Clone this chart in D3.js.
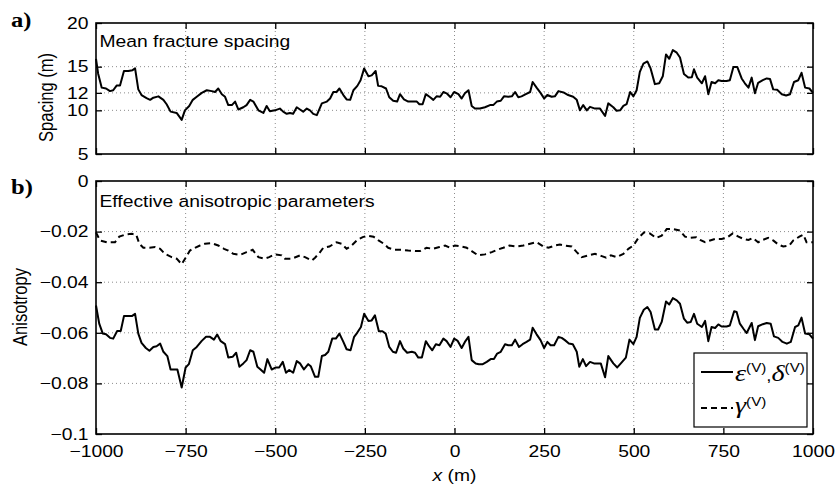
<!DOCTYPE html>
<html><head><meta charset="utf-8">
<script src="https://cdn.jsdelivr.net/npm/d3@7"></script>
<style>body{margin:0;background:#fff}svg{display:block}</style>
</head><body>
<svg id="c" width="835" height="484"></svg>
<script>
// ---------- data ----------
const xTicks=[-1000,-750,-500,-250,0,250,500,750,1000];
const xTickLabels=["−1000","−750","−500","−250","0","250","500","750","1000"];
const spacingTicks=[5,10,12,15,20];
const spacingTickLabels=["5","10","12","15","20"];
const spacingGrid=[10,12,15];
const anisoTicks=[-0.1,-0.08,-0.06,-0.04,-0.02,0];
const anisoTickLabels=["−0.1","−0.08","−0.06","−0.04","−0.02","0"];
const anisoGrid=[-0.08,-0.06,-0.04,-0.02];

const spacingX=[-1000,-994,-984,-972,-961,-952,-942,-933,-922,-910,-898,-891,-882,-873,-859,-849,-840,-826,-812,-803,-792,-775,-761,-752,-740,-730,-719,-705,-691,-677,-668,-659,-649,-640,-631,-621,-612,-603,-589,-580,-570,-561,-547,-533,-524,-515,-501,-487,
-478,-468,-459,-450,-440,-431,-422,-412,-403,-394,-384,-370,-356,-347,-338,-329,-321,-310,-301,-291,-282,-271,-262,-252,-240,-231,-220,-213,-203,-191,-182,-171,-160,-152,-141,-129,-117,-105,-98,-89,-80,-68,-59,-50,-40,-31,-22,-11,-1,11,20,29,39,48,57,71,85,99,108,118,129,138,150,160,169,178,187,199,211,218,229,240,250,259,271,280,290,
304,317,331,341,350,359,369,378,392,406,420,429,443,452,462,471,480,490,499,508,517,527,538,547,559,571,581,590,599,609,620,629,640,652,662,668,677,690,699,708,717,727,736,745,759,768,778,789,801,810,820,829,838,847,860,871,880,889,900,913,925,936,947,959,968,978,990,1000];
const spacing=[15.9,14.2,12.6,12.5,12.2,12.3,12.85,12.85,14.5,14.5,14.6,14.8,12.4,11.75,11.4,11.2,11.45,11.6,11.2,10.7,9.85,9.7,8.9,10.0,10.5,11.2,11.55,12.0,12.3,12.2,12.1,12.5,11.85,11.55,10.6,10.6,11.0,10.1,10.35,10.6,11.2,11.0,10.0,9.7,10.5,9.9,10.0,10.2,
9.85,9.6,9.7,9.6,10.35,10.1,9.85,10.2,10.0,9.6,9.45,10.8,11.0,11.35,12.1,12.1,12.5,11.75,11.25,11.2,12.3,12.8,13.45,14.8,13.9,14.0,14.5,12.8,12.75,12.5,11.5,11.1,11.0,11.85,11.25,11.0,11.0,11.0,10.7,10.7,11.85,11.5,11.2,11.6,11.55,12.1,11.95,11.5,12.1,11.85,11.35,11.95,12.3,10.5,10.2,10.2,10.35,10.6,10.6,11.0,11.1,11.6,11.55,11.6,12.1,11.5,11.6,11.85,12.1,13.25,12.6,12.0,11.35,11.75,11.55,11.6,12.2,
12.05,11.75,11.55,11.2,10.0,10.6,10.0,10.4,10.2,10.2,9.35,10.8,10.35,9.95,10.0,10.5,10.7,12.1,11.6,12.3,14.4,15.35,15.6,14.8,13.0,13.1,13.9,16.4,15.9,16.9,16.6,16.05,14.15,13.75,13.8,14.7,13.75,13.1,13.9,11.85,13.25,13.1,13.45,13.35,13.35,13.45,14.95,14.95,13.65,13.1,12.6,13.75,11.95,13.15,13.45,13.65,13.6,12.4,12.35,11.85,11.7,11.85,13.25,13.45,14.3,12.6,12.5,12.0];

const epsX=[-1000,-991,-981,-972,-961,-952,-941,-931,-922,-910,-900,-891,-882,-873,-861,-851,-840,-831,-821,-812,-801,-792,-773,-761,-750,-741,-730,-719,-705,-693,-682,-671,-662,-652,-640,-631,-619,-609,-600,-589,-580,-570,-561,-550,-541,-531,-522,-510,-498,-489,-479,-470,-461,-450,-440,-431,-420,-408,-401,-389,-380,-370,-361,-352,-341,-331,-321,
-310,-301,-290,-280,-271,-261,-252,-240,-231,-222,-211,-201,-192,-182,-172,-163,-152,-143,-132,-119,-110,-101,-91,-80,-71,-62,-52,-42,-31,-22,-11,-1,9,20,29,39,48,59,68,79,90,101,110,119,129,141,150,160,169,180,190,201,211,218,229,240,250,259,268,278,290,299,308,319,330,
341,348,358,367,378,389,408,420,429,443,454,464,478,488,499,508,517,528,538,547,559,568,578,590,599,609,620,629,640,649,659,668,677,690,699,708,717,727,736,745,759,768,780,787,796,806,815,829,838,847,860,871,882,891,903,915,927,938,950,959,968,978,990,1000];
const eps=[-0.0492,-0.0564,-0.0603,-0.0606,-0.0620,-0.0623,-0.0593,-0.0593,-0.0534,-0.0534,-0.0534,-0.0525,-0.0603,-0.0640,-0.0660,-0.0671,-0.0656,-0.0653,-0.0643,-0.0675,-0.0692,-0.0745,-0.0745,-0.0816,-0.0737,-0.0724,-0.0669,-0.0656,-0.0632,-0.0616,-0.0616,-0.0627,-0.0607,-0.0633,-0.0645,-0.0698,-0.0695,-0.0679,-0.0734,-0.0721,-0.0708,-0.0669,-0.0675,-0.0734,-0.0745,-0.0758,-0.0704,-0.0745,-0.0737,-0.0737,-0.0715,-0.0758,-0.0747,-0.0758,-0.0712,-0.0721,-0.0745,-0.0724,-0.0732,-0.0774,-0.0774,-0.0692,-0.0688,-0.0675,-0.0623,-0.0623,-0.0603,
-0.0636,-0.0665,-0.0669,-0.0616,-0.0599,-0.0577,-0.0525,-0.0553,-0.0551,-0.0531,-0.0594,-0.0594,-0.0603,-0.0656,-0.0675,-0.0679,-0.0633,-0.0662,-0.0679,-0.0675,-0.0679,-0.0698,-0.0698,-0.0633,-0.0653,-0.0669,-0.0645,-0.0649,-0.0623,-0.0633,-0.0656,-0.0623,-0.0632,-0.0660,-0.0636,-0.0616,-0.0708,-0.0721,-0.0724,-0.0724,-0.0715,-0.0704,-0.0704,-0.0682,-0.0675,-0.0645,-0.0649,-0.0649,-0.0627,-0.0656,-0.0645,-0.0636,-0.0627,-0.0580,-0.0606,-0.0629,-0.0660,-0.0636,-0.0649,-0.0649,-0.0616,-0.0620,-0.0629,-0.0642,-0.0645,
-0.0675,-0.0734,-0.0704,-0.0732,-0.0715,-0.0721,-0.0721,-0.0776,-0.0692,-0.0721,-0.0737,-0.0721,-0.0698,-0.0627,-0.0645,-0.0616,-0.0541,-0.0509,-0.0498,-0.0518,-0.0587,-0.0587,-0.0557,-0.0476,-0.0488,-0.0463,-0.0472,-0.0485,-0.0544,-0.0560,-0.0557,-0.0525,-0.0564,-0.0577,-0.0553,-0.0633,-0.0577,-0.0581,-0.0567,-0.0575,-0.0575,-0.0571,-0.0515,-0.0518,-0.0564,-0.0584,-0.0601,-0.0561,-0.0629,-0.0574,-0.0566,-0.0561,-0.0564,-0.0614,-0.0620,-0.0636,-0.0643,-0.0636,-0.0577,-0.0571,-0.0540,-0.0603,-0.0606,-0.0623];

const gamX=[-1000,-989,-970,-947,-935,-919,-900,-888,-879,-868,-851,-835,-821,-808,-789,-775,-761,-749,-738,-724,-710,-696,-677,-659,-643,-631,-617,-598,-580,-563,-547,-531,-517,-501,-482,-473,-454,-431,-417,-398,-389,-377,-366,-349,-329,-315,-301,-287,-271,-256,-243,-226,-212,-197,-185,-166,-147,-129,-110,-96,-78,-61,-42,-26,-13,1,20,34,48,66,85,104,119,136,153,174,192,211,229,248,262,280,294,308,327,341,355,373,392,411,423,436,452,471,485,499,513,529,545,562,578,592,610,629,643,657,674,685,699,713,727,745,759,776,792,806,820,832,847,860,875,889,903,917,934,945,962,973,982,1000];
const gam=[-0.0203,-0.0235,-0.0242,-0.0242,-0.0220,-0.0212,-0.0209,-0.0212,-0.0248,-0.0264,-0.0264,-0.0261,-0.0268,-0.0288,-0.0301,-0.0307,-0.0329,-0.0301,-0.0275,-0.0264,-0.0255,-0.0248,-0.0246,-0.0255,-0.0268,-0.0275,-0.0288,-0.0292,-0.0281,-0.0272,-0.0301,-0.0307,-0.0301,-0.0290,-0.0294,-0.0307,-0.0307,-0.0294,-0.0301,-0.0314,-0.0303,-0.0285,-0.0264,-0.0259,-0.0242,-0.0248,-0.0268,-0.0255,-0.0233,-0.0222,-0.0216,-0.0220,-0.0235,-0.0248,-0.0264,-0.0272,-0.0272,-0.0275,-0.0277,-0.0277,-0.0264,-0.0268,-0.0261,-0.0255,-0.0264,-0.0255,-0.0259,-0.0264,-0.0277,-0.0294,-0.0290,-0.0281,-0.0272,-0.0264,-0.0255,-0.0259,-0.0255,-0.0248,-0.0242,-0.0259,-0.0264,-0.0255,-0.0251,-0.0255,-0.0259,-0.0281,-0.0301,-0.0294,-0.0288,-0.0297,-0.0303,-0.0294,-0.0301,-0.0288,-0.0268,-0.0255,-0.0225,-0.0203,-0.0207,-0.0225,-0.0216,-0.0190,-0.0190,-0.0196,-0.0220,-0.0225,-0.0222,-0.0233,-0.0242,-0.0235,-0.0229,-0.0229,-0.0225,-0.0207,-0.0220,-0.0229,-0.0233,-0.0225,-0.0242,-0.0233,-0.0225,-0.0235,-0.0251,-0.0259,-0.0255,-0.0235,-0.0220,-0.0212,-0.0242,-0.0242];

// ---------- layout ----------
const SX=1.17;
const FONT='"Liberation Sans", Arial, Helvetica, sans-serif';
const SERIF='"Liberation Serif", "Times New Roman", serif';
const FS=16.5;
const svg=d3.select("#c");
const L=96,R=813;
const topP={t:23,b:154}, botP={t:181,b:434};
const x=d3.scaleLinear().domain([-1000,1000]).range([L,R]);
const yS=d3.scaleLinear().domain([5,20]).range([topP.b,topP.t]);
const yA=d3.scaleLinear().domain([-0.1,0]).range([botP.b,botP.t]);

function grid(p,yScale,yVals){
  const g=svg.append("g").attr("stroke","#8c8c8c").attr("stroke-width",1).attr("stroke-dasharray","1,3").attr("fill","none");
  g.selectAll(".v").data(xTicks.slice(1,-1)).join("line")
    .attr("x1",d=>x(d)).attr("x2",d=>x(d)).attr("y1",p.t).attr("y2",p.b);
  g.selectAll(".h").data(yVals).join("line")
    .attr("x1",L).attr("x2",R).attr("y1",d=>yScale(d)).attr("y2",d=>yScale(d));
}

function styleAxis(g){
  g.select(".domain").remove();
  g.selectAll("line").attr("stroke","#000").attr("stroke-width",1.3);
  g.selectAll("text").attr("font-family",FONT).attr("font-size",FS).attr("fill","#000");
}

function axes(p,yScale,yTicks,yLabels,showX){
  const gb=svg.append("g").attr("transform",`translate(0,${p.b})`)
    .call(d3.axisBottom(x).tickValues(xTicks).tickSize(-6).tickPadding(11).tickFormat((d,i)=>showX?xTickLabels[i]:""));
  styleAxis(gb);
  gb.selectAll("text").attr("transform",`scale(${SX},1)`);
  const gt=svg.append("g").attr("transform",`translate(0,${p.t})`)
    .call(d3.axisTop(x).tickValues(xTicks).tickSize(-6).tickFormat(""));
  styleAxis(gt);
  const gl=svg.append("g").attr("transform",`translate(${L},0)`)
    .call(d3.axisLeft(yScale).tickValues(yTicks).tickSize(-6).tickPadding(7.5).tickFormat((d,i)=>yLabels[i]));
  styleAxis(gl);
  gl.selectAll("text").attr("x",0).attr("transform",`translate(-7.5,0) scale(${SX},1)`);
  const gr=svg.append("g").attr("transform",`translate(${R},0)`)
    .call(d3.axisRight(yScale).tickValues(yTicks).tickSize(-6).tickFormat(""));
  styleAxis(gr);
}

grid(topP,yS,spacingGrid);
grid(botP,yA,anisoGrid);
axes(topP,yS,spacingTicks,spacingTickLabels,false);
axes(botP,yA,anisoTicks,anisoTickLabels,true);

// curves
const lineS=d3.line().x(d=>x(d[0])).y(d=>yS(d[1]));
const lineA=d3.line().x(d=>x(d[0])).y(d=>yA(d[1]));
svg.append("path").datum(d3.zip(spacingX,spacing)).attr("d",lineS)
  .attr("fill","none").attr("stroke","#000").attr("stroke-width",2).attr("stroke-linejoin","round");
svg.append("path").datum(d3.zip(gamX,gam)).attr("d",lineA)
  .attr("fill","none").attr("stroke","#000").attr("stroke-width",2).attr("stroke-dasharray","6,4");
svg.append("path").datum(d3.zip(epsX,eps)).attr("d",lineA)
  .attr("fill","none").attr("stroke","#000").attr("stroke-width",2).attr("stroke-linejoin","round");

// frames
[topP,botP].forEach(p=>{
  svg.append("rect").attr("x",L).attr("y",p.t).attr("width",R-L).attr("height",p.b-p.t)
    .attr("fill","none").attr("stroke","#000").attr("stroke-width",1.6);
});

// texts
function txt(xp,yp,str,opts={}){
  const t=svg.append("text")
    .attr("transform",`translate(${xp},${yp}) scale(${SX},1)${opts.rot?" rotate("+opts.rot+")":""}`)
    .attr("font-family",opts.family||FONT).attr("font-size",opts.size||FS)
    .attr("text-anchor",opts.anchor||"start").attr("fill","#000");
  if(opts.weight) t.attr("font-weight",opts.weight);
  if(str!==null) t.text(str);
  return t;
}
txt(99.5,46.5,"Mean fracture spacing");
txt(99.5,206.5,"Effective anisotropic parameters");
txt(11,26.5,"a)",{family:SERIF,weight:"bold",size:21});
txt(11,194,"b)",{family:SERIF,weight:"bold",size:21});
txt(52.5,97.5,"Spacing (m)",{rot:-90,anchor:"middle"});
txt(26.5,307,"Anisotropy",{rot:-90,anchor:"middle"});
const xl=txt(454.5,480.5,null,{anchor:"middle"});
xl.append("tspan").attr("font-style","italic").text("x");
xl.append("tspan").text(" (m)");

// legend
const lg=svg.append("g");
lg.append("rect").attr("x",694).attr("y",353).attr("width",113).attr("height",74)
  .attr("fill","#fff").attr("stroke","#000").attr("stroke-width",1.2);
lg.append("line").attr("x1",701).attr("x2",733).attr("y1",372).attr("y2",372)
  .attr("stroke","#000").attr("stroke-width",2);
lg.append("line").attr("x1",701).attr("x2",733).attr("y1",408).attr("y2",408)
  .attr("stroke","#000").attr("stroke-width",2).attr("stroke-dasharray","6,4");
const t1=txt(735,381,null);
t1.append("tspan").attr("font-family",SERIF).attr("font-style","italic").attr("font-size",24).text("ε");
t1.append("tspan").attr("font-size",13).attr("dy",-9).text("(V)");
t1.append("tspan").attr("font-size",16).attr("dy",9).text(",");
t1.append("tspan").attr("font-family",SERIF).attr("font-style","italic").attr("font-size",24).text("δ");
t1.append("tspan").attr("font-size",13).attr("dy",-9).text("(V)");
const t2=txt(735,413,null);
t2.append("tspan").attr("font-family",SERIF).attr("font-style","italic").attr("font-size",24).text("γ");
t2.append("tspan").attr("font-size",13).attr("dy",-7).text("(V)");
</script>
</body></html>
